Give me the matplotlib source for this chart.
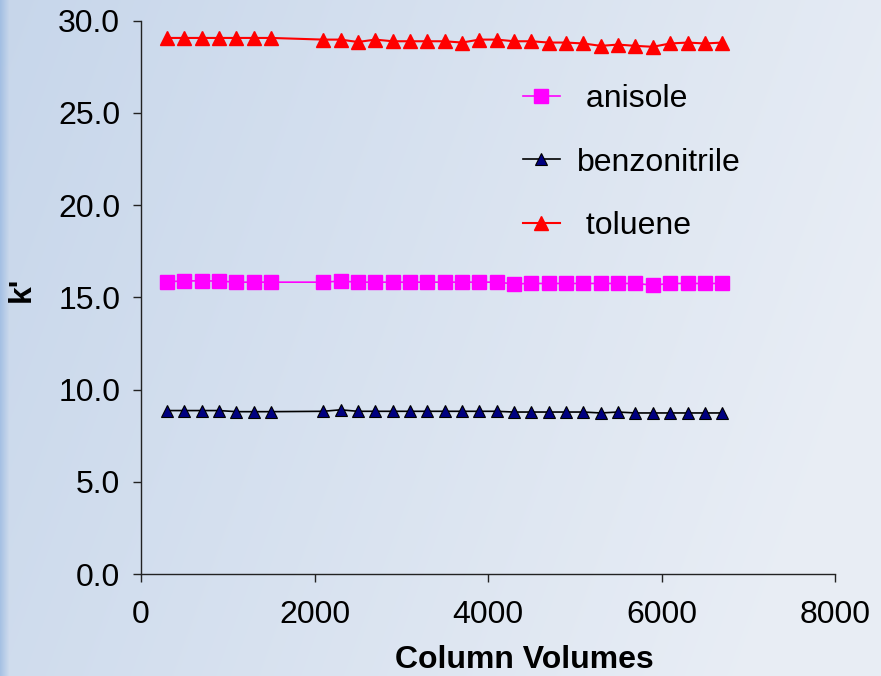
import numpy as np
import matplotlib
matplotlib.use("Agg")
import matplotlib.pyplot as plt

plt.rcParams['font.family'] = ['Liberation Sans', 'DejaVu Sans']

# data
column_volumes = [300, 500, 700, 900, 1100, 1300, 1500,
                  2100, 2300, 2500, 2700, 2900, 3100, 3300, 3500, 3700, 3900, 4100,
                  4300, 4500, 4700, 4900, 5100, 5300, 5500, 5700, 5900, 6100, 6300, 6500, 6700]

anisole = [15.84, 15.89, 15.89, 15.88, 15.82, 15.82, 15.82,
           15.82, 15.88, 15.82, 15.82, 15.82, 15.82, 15.82, 15.82, 15.82, 15.82, 15.82,
           15.73, 15.75, 15.75, 15.75, 15.75, 15.75, 15.75, 15.75, 15.66, 15.75, 15.75, 15.75, 15.75]

benzonitrile = [8.86, 8.86, 8.86, 8.86, 8.80, 8.80, 8.80,
                8.82, 8.90, 8.82, 8.82, 8.82, 8.82, 8.82, 8.82, 8.82, 8.82, 8.82,
                8.78, 8.78, 8.78, 8.78, 8.78, 8.73, 8.78, 8.73, 8.73, 8.73, 8.73, 8.73, 8.73]

toluene = [29.06, 29.06, 29.06, 29.06, 29.06, 29.06, 29.06,
           28.97, 28.97, 28.84, 28.97, 28.88, 28.88, 28.88, 28.88, 28.81, 28.97, 28.97,
           28.88, 28.88, 28.81, 28.81, 28.76, 28.63, 28.70, 28.63, 28.58, 28.76, 28.81, 28.76, 28.81]

W, H = 881, 676
fig = plt.figure(figsize=(W / 100, H / 100), dpi=100)

# slide-like background: light blue fading to white on the right
bg = fig.add_axes([0, 0, 1, 1], zorder=-10)
xx = np.linspace(0, 1, W)[None, :]
yy = np.linspace(0, 1, H)[:, None]
left_col = np.array([0.78, 0.84, 0.92])
right_col = np.array([0.91, 0.93, 0.96])
t = np.clip(xx * 0.9 + yy * 0.25, 0, 1)[..., None]
img = left_col * (1 - t) + right_col * t
strip = np.clip(1 - np.linspace(0, 1, W) * W / 9, 0, 1)[None, :, None]
img = img * (1 - strip * 0.6) + np.array([0.55, 0.69, 0.87]) * strip * 0.6
bg.imshow(img, aspect='auto', extent=[0, 1, 0, 1], origin='upper')
bg.axis('off')

ax = fig.add_axes([141 / W, 1 - 574 / H, (835 - 141) / W, (574 - 20.6) / H])
ax.patch.set_alpha(0)

ax.plot(column_volumes, anisole, color='#ff00ff', lw=1.2, marker='s', ms=9.5,
        mec='#ff00ff', label=' anisole')
ax.plot(column_volumes, benzonitrile, color='black', lw=1.2, marker='^', ms=9,
        mfc='#000080', mec='black', mew=0.8, label='benzonitrile')
ax.plot(column_volumes, toluene, color='#ff0000', lw=1.5, marker='^', ms=9.5,
        mec='#ff0000', label=' toluene')

ax.set_xlim(0, 8000)
ax.set_ylim(0, 30)
ax.set_xticks([0, 2000, 4000, 6000, 8000])
ax.set_yticks([0, 5, 10, 15, 20, 25, 30])
ax.set_yticklabels(['%.1f' % v for v in [0, 5, 10, 15, 20, 25, 30]])

for s in ['top', 'right']:
    ax.spines[s].set_visible(False)
for s in ['left', 'bottom']:
    ax.spines[s].set_color('#222222')
    ax.spines[s].set_linewidth(1)

ax.tick_params(axis='both', direction='out', length=6, width=1, color='#222222',
               labelsize=23)
ax.tick_params(axis='y', pad=9)
ax.tick_params(axis='x', pad=13)

ax.set_xlabel('Column Volumes', fontsize=23, fontweight='bold')
ax.xaxis.set_label_coords(0.553, -0.129)
ax.set_ylabel("k'", fontsize=23, fontweight='bold')
ax.yaxis.set_label_coords(-0.15, 0.515)

ax.legend(loc='upper left', bbox_to_anchor=(523 / W, 1 - 84 / H),
          bbox_transform=fig.transFigure, frameon=False, fontsize=23,
          handlelength=1.15, handletextpad=0.55, labelspacing=1.05,
          borderpad=0, borderaxespad=0)

fig.savefig('out.png', dpi=100)
